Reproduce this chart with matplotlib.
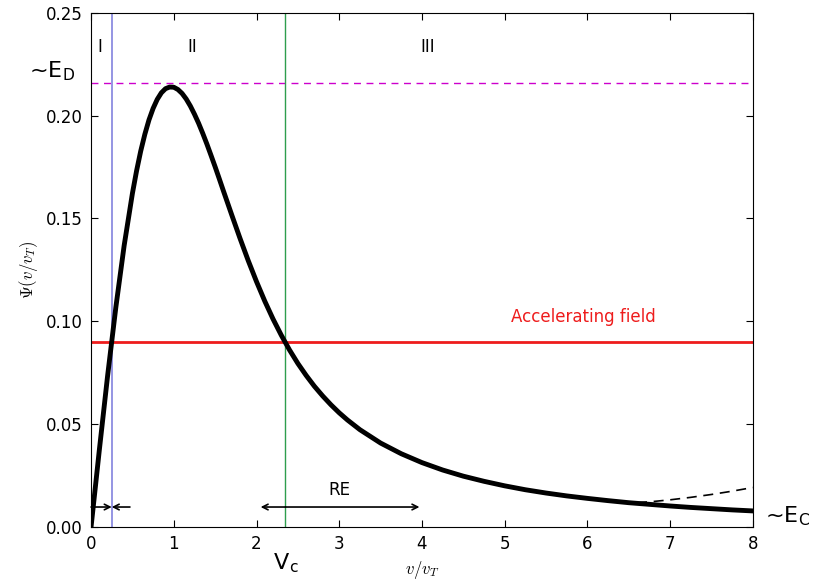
import matplotlib
matplotlib.use("Agg")
import matplotlib.pyplot as plt
from matplotlib.ticker import FormatStrFormatter

# Curve (v/v_T, Psi)
v = [0.0, 0.1, 0.2, 0.3, 0.4, 0.5, 0.55, 0.6, 0.65, 0.7, 0.75, 0.8, 0.85, 0.9,
     0.95, 1.0, 1.05, 1.1, 1.15, 1.2, 1.25, 1.3, 1.35, 1.4, 1.45, 1.5, 1.55,
     1.6, 1.7, 1.8, 1.9, 2.0, 2.1, 2.2, 2.3, 2.4, 2.5, 2.6, 2.7, 2.8, 2.9,
     3.0, 3.1, 3.25, 3.5, 3.75, 4.0, 4.25, 4.5, 4.75, 5.0, 5.25, 5.5, 5.75,
     6.0, 6.25, 6.5, 6.75, 7.0, 7.25, 7.5, 7.75, 8.0]
psi = [0.0, 0.0374, 0.0735, 0.1069, 0.1368, 0.1622, 0.1731, 0.1827, 0.1909,
       0.1979, 0.2035, 0.2079, 0.2111, 0.2131, 0.2139, 0.2138, 0.2127, 0.2108,
       0.2081, 0.2047, 0.2007, 0.1963, 0.1914, 0.1862, 0.1807, 0.1751, 0.1693,
       0.1634, 0.1518, 0.1404, 0.1295, 0.1193, 0.1098, 0.1011, 0.0932, 0.0860,
       0.0795, 0.0737, 0.0684, 0.0637, 0.0594, 0.0555, 0.0520, 0.0473, 0.0408,
       0.0356, 0.0313, 0.0277, 0.0247, 0.0222, 0.0200, 0.0181, 0.0165, 0.0151,
       0.0139, 0.0128, 0.0118, 0.0110, 0.0102, 0.0095, 0.0089, 0.0083, 0.0078]

# dashed tail
v_tail = [6.6, 6.8, 7.0, 7.25, 7.5, 7.75, 8.0]
psi_tail = [0.0118, 0.0124, 0.0132, 0.0144, 0.0158, 0.0174, 0.0192]

E_field = 0.09
E_D = 0.216
v_low = 0.25
v_c = 2.35

plt.rcParams["mathtext.fontset"] = "cm"

fig = plt.figure(figsize=(8.13, 5.81), dpi=100)
ax = fig.add_axes([0.112, 0.093, 0.814, 0.885])

ax.plot(v, psi, color="black", lw=3.5, zorder=5, solid_joinstyle="round")
ax.plot(v_tail, psi_tail, color="black", lw=1.2, ls=(0, (6, 4)))
ax.axhline(E_field, color="#ee1c1c", lw=2)
ax.axhline(E_D, color="#cc00cc", lw=1, ls=(0, (5, 4)))
ax.axvline(v_low, color="#8c8ce0", lw=1.3)
ax.axvline(v_c, color="#2e9e4e", lw=1)

# arrows
arr = dict(arrowstyle="->", color="black", lw=1.2, shrinkA=0, shrinkB=0)
ax.annotate("", xy=(v_low, 0.0097), xytext=(0.0, 0.0097), arrowprops=arr)
ax.annotate("", xy=(v_low, 0.0097), xytext=(0.47, 0.0097), arrowprops=arr)
ax.annotate("", xy=(2.05, 0.0097), xytext=(v_c, 0.0097), arrowprops=arr)
ax.annotate("", xy=(3.97, 0.0097), xytext=(v_c, 0.0097), arrowprops=arr)

ax.text(3.0, 0.0135, "RE", fontsize=12, ha="center", va="bottom")
ax.text(0.11, 0.2335, "I", fontsize=12, ha="center", va="center")
ax.text(1.22, 0.2335, "II", fontsize=12, ha="center", va="center")
ax.text(4.07, 0.2335, "III", fontsize=12, ha="center", va="center")
ax.text(5.95, 0.0975, "Accelerating field", fontsize=12, color="#ee1c1c",
        ha="center", va="bottom")

ax.text(-0.18, 0.2215, "~E$_\\mathregular{D}$", fontsize=16, ha="right",
        va="center", clip_on=False)
ax.text(8.15, 0.0055, "~E$_\\mathregular{C}$", fontsize=16, ha="left",
        va="center", clip_on=False)
ax.text(v_c, -0.0175, "V$_\\mathregular{c}$", fontsize=16, ha="center",
        va="center", clip_on=False)

ax.set_xlim(0, 8)
ax.set_ylim(0, 0.25)
ax.set_xticks(range(0, 9))
ax.set_yticks([0.0, 0.05, 0.10, 0.15, 0.20, 0.25])
ax.yaxis.set_major_formatter(FormatStrFormatter("%.2f"))
ax.tick_params(direction="in", top=True, right=True, length=5, labelsize=12, pad=6)
ax.set_xlabel(r"$v/v_T$", fontsize=12, labelpad=4)
ax.set_ylabel(r"$\Psi(v/v_T)$", fontsize=12, labelpad=4)

fig.savefig("out.png", dpi=100)
